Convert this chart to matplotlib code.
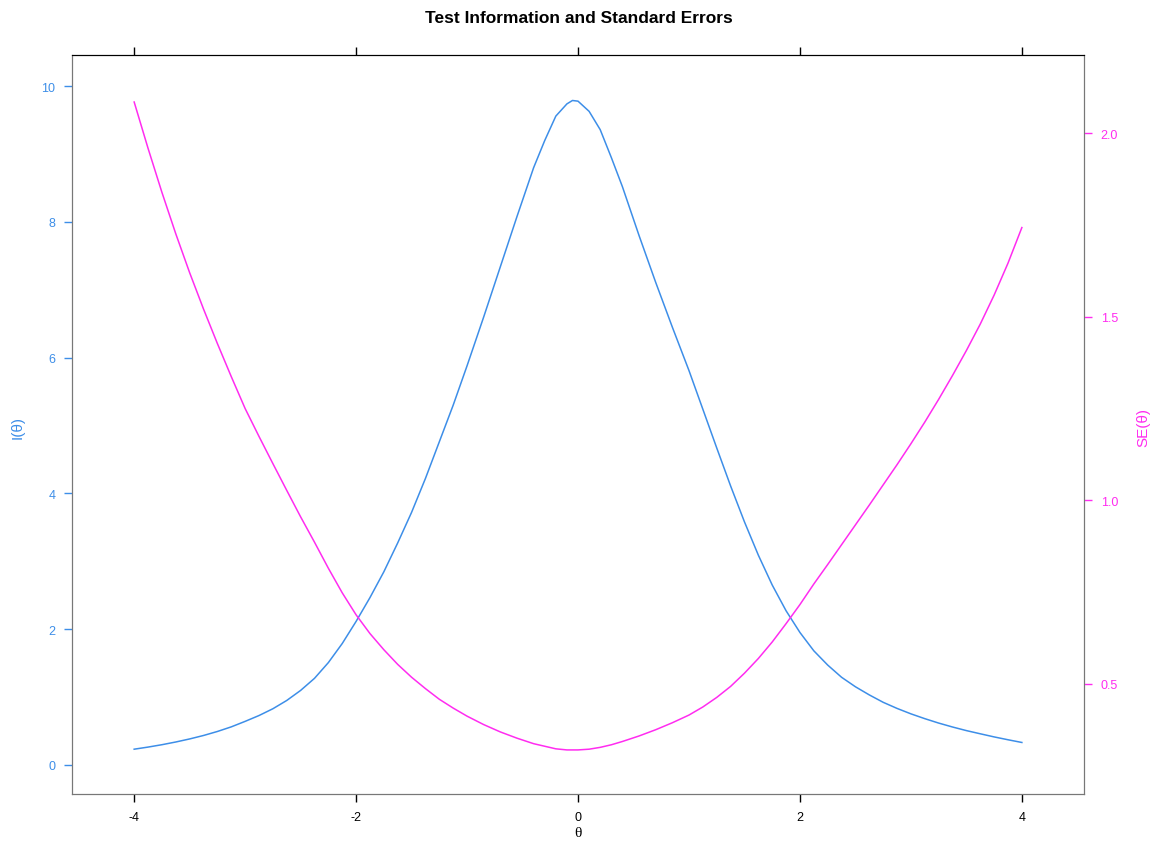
import numpy as np
import matplotlib
matplotlib.use("Agg")
import matplotlib.pyplot as plt

plt.rcParams['font.family'] = ['Liberation Sans', 'DejaVu Sans']

# %% test information curve and its standard error over theta

theta = [-4.0, -3.875, -3.75, -3.625, -3.5, -3.375, -3.25, -3.125, -3.0,
         -2.875, -2.75, -2.625, -2.5, -2.375, -2.25, -2.125, -2.0,
         -1.875, -1.75, -1.625, -1.5, -1.375, -1.25, -1.125, -1.0,
         -0.85, -0.7, -0.55, -0.4, -0.3, -0.2, -0.1, -0.05, 0.0,
         0.1, 0.2, 0.3, 0.4, 0.55, 0.7, 0.85, 1.0,
         1.125, 1.25, 1.375, 1.5, 1.625, 1.75, 1.875, 2.0,
         2.125, 2.25, 2.375, 2.5, 2.625, 2.75, 2.875, 3.0,
         3.125, 3.25, 3.375, 3.5, 3.625, 3.75, 3.875, 4.0]

info = [0.230, 0.261, 0.296, 0.336, 0.381, 0.432, 0.491, 0.559, 0.640,
        0.726, 0.826, 0.948, 1.096, 1.274, 1.506, 1.787, 2.113,
        2.464, 2.844, 3.27, 3.72, 4.22, 4.76, 5.30, 5.88,
        6.60, 7.34, 8.08, 8.80, 9.20, 9.56, 9.74, 9.79, 9.78,
        9.63, 9.36, 8.95, 8.52, 7.80, 7.11, 6.45, 5.81,
        5.24, 4.67, 4.11, 3.58, 3.09, 2.65, 2.27, 1.95,
        1.68, 1.47, 1.29, 1.15, 1.03, 0.921, 0.831, 0.751,
        0.680, 0.615, 0.557, 0.504, 0.457, 0.411, 0.369, 0.329]

se = [2.085, 1.959, 1.839, 1.726, 1.620, 1.521, 1.427, 1.337, 1.250,
      1.174, 1.100, 1.027, 0.955, 0.886, 0.815, 0.748, 0.688,
      0.637, 0.593, 0.553, 0.518, 0.487, 0.458, 0.434, 0.412,
      0.389, 0.369, 0.352, 0.337, 0.330, 0.323, 0.320, 0.320, 0.320,
      0.322, 0.327, 0.334, 0.343, 0.358, 0.375, 0.394, 0.415,
      0.437, 0.463, 0.493, 0.529, 0.569, 0.614, 0.664, 0.716,
      0.772, 0.825, 0.879, 0.933, 0.987, 1.042, 1.097, 1.154,
      1.213, 1.275, 1.340, 1.408, 1.480, 1.559, 1.646, 1.743]

x_ticks = [-4, -2, 0, 2, 4]
info_ticks = [0, 2, 4, 6, 8, 10]
se_ticks = [0.5, 1.0, 1.5, 2.0]

blue = "#3d8ee8"
magenta = "#ff2cf0"

fig = plt.figure(figsize=(11.58, 8.45), dpi=100)
ax = fig.add_axes([0.0622, 0.0592, 0.8739, 0.8745])
ax2 = ax.twinx()

ax.plot(theta, info, color=blue, lw=1.1, solid_joinstyle='round')
ax2.plot(theta, se, color=magenta, lw=1.1, solid_joinstyle='round')

ax.set_xlim(-4.56, 4.56)
ax.set_ylim(-0.43, 10.46)
ax2.set_ylim(0.2, 2.213)

ax.set_xticks(x_ticks)
ax.set_xticklabels([str(t) for t in x_ticks])
ax.set_yticks(info_ticks)
ax.set_yticklabels([str(t) for t in info_ticks])
ax2.set_yticks(se_ticks)
ax2.set_yticklabels(["%.1f" % t for t in se_ticks])

ax.tick_params(axis='x', direction='out', length=6, width=1, colors='black',
               labelsize=9, top=True, pad=6)
ax.tick_params(axis='y', direction='out', length=6, width=1, colors=blue,
               labelsize=9, pad=6)
ax2.tick_params(axis='y', direction='out', length=6, width=1, colors=magenta,
                labelsize=9, pad=6)

for a in (ax, ax2):
    for side in ('left', 'bottom', 'right'):
        a.spines[side].set_color('#777777')
    a.spines['top'].set_color('black')

# axis titles placed in figure coords so they sit near the edges
fig.text(0.499, 0.0142, "θ", fontsize=11, ha='center', va='center',
         family=['Liberation Serif', 'DejaVu Serif'])
fig.text(0.0155, 0.4935, "I(θ)", fontsize=11, color=blue, rotation=90,
         ha='center', va='center')
fig.text(0.987, 0.4935, "SE(θ)", fontsize=11, color=magenta, rotation=90,
         ha='center', va='center')

fig.suptitle("Test Information and Standard Errors", fontsize=12.5,
             fontweight='bold', y=0.987)

fig.savefig("out.png", dpi=100)
